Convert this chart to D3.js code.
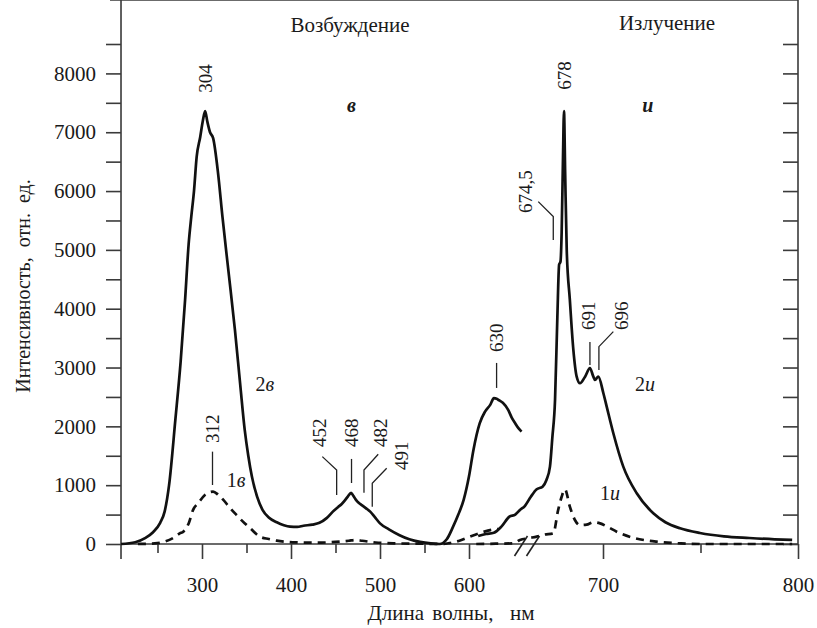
<!DOCTYPE html>
<head>
    <meta charset="utf-8">
    <script src="https://d3js.org/d3.v7.min.js"></script>
    <style>
        body { margin: 0; background: #fff; }
        svg { font-family: "Liberation Serif", "Times New Roman", serif; fill: #1a1a1a; }
        text { white-space: pre; }
        .frame, .axis .tick line { stroke: #3a3a3a; stroke-width: 1.6px; }
        .axis .domain { display: none; }
        .axis text { font-size: 21px; fill: #1a1a1a; font-family: "Liberation Serif", serif; }
        .curve { fill: none; stroke: #111; stroke-width: 2.7px; stroke-linejoin: round; }
        .dashed { stroke-dasharray: 8, 6; }
        .lead { fill: none; stroke: #222; stroke-width: 1.3px; }
        .peak { font-size: 19px; }
    </style>
</head>
<body>
<div id="vis"></div>
<script>
    ////////// data (wavelength nm, intensity) //////////

    // excitation spectrum, curve 2в
    var excit2 = [[209,0],[225,30],[236,100],[245,200],[253,360],[258,550],[263,1000],[270,2100],[276,3100],
        [281,4150],[285,5100],[288,5570],[291,6000],[294,6580],[298,6920],[301,7200],[303.5,7360],[306,7180],
        [309,7000],[312.5,6900],[318,6310],[323,5560],[330,4600],[337,3640],[343,2700],[348,1940],[352,1500],
        [356,1150],[362,800],[368,580],[375,450],[384,370],[392,320],[399,295],[407,290],[414,310],[424,330],
        [432,360],[440,440],[447,550],[453,630],[457,680],[461,750],[464,810],[467.5,870],[470,820],[473,750],
        [476,700],[479.5,660],[484,610],[489,550],[494,460],[500,350],[510,250],[522,150],[533,80],[545,35],
        [557,10],[567,0],[575,80],[582,290],[588,500],[594,750],[600,1150],[605,1600],[612,2050],[618,2250],
        [624,2370],[628,2480],[631,2470],[634,2440],[638,2400],[644,2280],[648,2150],[652,2050],[656,1960],[659,1910]];

    // excitation spectrum, curve 1в
    var excit1 = [[228,0],[247,10],[258,40],[270,125],[275,180],[279,210],[285,350],[290,580],[296,700],
        [303,830],[312.5,890],[318,840],[324,750],[331,620],[339,490],[346,380],[354,270],[365,125],[375,85],
        [384,57],[406,28],[429,22],[450,35],[465,55],[472,68],[480,55],[495,25],[520,10],[545,5],[570,0],
        [578,15],[590,60],[600,120],[615,200],[625,240],[633,255]];

    // emission spectrum, curve 2и
    var emiss2 = [[636,136],[640,170],[644,192],[648,300],[652,464],[655,500],[657.4,578],[660,650],[663,804],
        [666,930],[669,975],[671,1088],[672.8,1315],[674,1800],[675.4,2449],[676.6,3866],[677.5,4750],[678.2,4800],
        [678.8,5300],[679.5,6600],[680,7360],[680.6,6300],[681.4,5000],[683,4150],[684.8,3300],[686.5,2845],
        [688.2,2733],[690.8,2845],[693.3,2990],[695,2850],[695.9,2790],[697.6,2845],[700.2,2563],[701.9,2335],
        [705.3,1883],[710.4,1315],[717.3,862],[725.8,522],[732,370],[739.5,267],[749.7,187],[762,130],
        [775,102],[788,80],[797,70]];

    // emission spectrum, curve 1и
    var emiss1 = [[635,0],[645,5],[654,12],[657.4,68],[662,100],[666,125],[670,160],[674.5,182],[677,578],
        [678.8,804],[680.5,930],[683,634],[685.6,408],[688,323],[691.6,330],[695,370],[698.5,350],[703,280],
        [707,209],[715,110],[721,68],[727.5,40],[740,10],[750,0],[797,0]];

    var yTicks = d3.range(0, 8501, 500);
    var exMajor = [300, 400, 500, 600], exMinor = [250, 350, 450, 550];
    var emMajor = [700, 800], emMinor = [750];

    // peak labels: text, scale, anchor (nm, intensity), leader polyline
    var peakLabels = [
        {t: "304", s: "ex", at: [303.4, 7670], lead: []},
        {t: "312", s: "ex", at: [311.8, 1718], lead: [[311.8,1570],[311.8,1003]]},
        {t: "452", s: "ex", at: [432.4, 1650], lead: [[435.2,1485],[451.3,1259],[451.3,833]]},
        {t: "468", s: "ex", at: [468, 1650], lead: [[468,1446],[468,1037]]},
        {t: "482", s: "ex", at: [500, 1650], lead: [[498,1525],[482,1259],[482,872]]},
        {t: "491", s: "ex", at: [524, 1259], lead: [[507.5,1287],[491.3,1032],[491.3,634]]},
        {t: "630", s: "ex", at: [630.9, 3265], lead: [[631,3078],[631,2653]]},
        {t: "678", s: "em", at: [680, 7721], lead: []},
        {t: "674,5", s: "em", at: [660, 5629], lead: [[666.8,5821],[674.5,5566],[674.5,5170]]},
        {t: "691", s: "em", at: [692.3, 3639], lead: [[693.3,3435],[693.3,3044]]},
        {t: "696", s: "em", at: [709.5, 3639], lead: [[705.3,3610],[697.9,3355],[697.9,2959]]}
    ];

    var curveLabels = [
        {n: "2", l: "в", s: "ex", at: [360, 2602]},
        {n: "1", l: "в", s: "ex", at: [327.8, 969]},
        {n: "2", l: "и", s: "em", at: [716.4, 2602]},
        {n: "1", l: "и", s: "em", at: [698.5, 748]}
    ];

    ////////// scales //////////

    var width = 817, height = 628;

    var xEx = d3.scaleLinear().domain([300, 600]).range([202, 469]);
    var xEm = d3.scaleLinear().domain([700, 800]).range([603, 798]);
    var y = d3.scaleLinear().domain([0, 8500]).range([544, 44]);
    var sc = {ex: xEx, em: xEm};

    var left = xEx(209), right = xEm(800), top = y(8500), bottom = y(0);

    var svg = d3.select("#vis").append("svg")
        .attr("width", width)
        .attr("height", height);

    svg.append("rect").attr("width", width).attr("height", height).attr("fill", "#fff");

    ////////// frame and axes //////////

    var frame = svg.append("g");
    frame.append("line").attr("class", "frame").attr("x1", left).attr("x2", left).attr("y1", top).attr("y2", bottom + 15);
    frame.append("line").attr("class", "frame").attr("x1", left).attr("x2", right).attr("y1", bottom).attr("y2", bottom);
    frame.append("line").attr("class", "frame").attr("x1", right).attr("x2", right).attr("y1", top).attr("y2", bottom);
    frame.append("line").attr("class", "frame").attr("x1", left - 11).attr("x2", right).attr("y1", top).attr("y2", top);

    svg.append("g").attr("class", "axis")
        .attr("transform", "translate(" + left + ",0)")
        .call(d3.axisLeft(y).tickValues(yTicks).tickSize(15).tickPadding(10)
            .tickFormat(function(d) { return (d % 1000 === 0) ? d : ""; }));

    svg.append("g").attr("class", "axis")
        .attr("transform", "translate(" + right + ",0)")
        .call(d3.axisLeft(y).tickValues(yTicks).tickSize(-0).tickSizeInner(15).tickFormat(""))
        .selectAll(".tick line").attr("x2", -15);

    function xAxis(scale, major, minor) {
        svg.append("g").attr("class", "axis")
            .attr("transform", "translate(0," + bottom + ")")
            .call(d3.axisBottom(scale).tickValues(major).tickSize(15).tickPadding(18));
        svg.append("g").attr("class", "axis")
            .attr("transform", "translate(0," + bottom + ")")
            .call(d3.axisBottom(scale).tickValues(minor).tickSize(9).tickFormat(""));
    }
    xAxis(xEx, exMajor, exMinor);
    xAxis(xEm, emMajor, emMinor);

    // axis break marks
    [521, 533].forEach(function(cx) {
        svg.append("line").attr("class", "lead")
            .attr("x1", cx - 6.5).attr("y1", bottom + 12)
            .attr("x2", cx + 6.5).attr("y2", bottom - 8)
            .style("stroke-width", "1.6px");
    });

    ////////// curves //////////

    function draw(data, scale, dashed) {
        var line = d3.line()
            .x(function(d) { return scale(d[0]); })
            .y(function(d) { return y(d[1]); })
            .curve(d3.curveMonotoneX);
        svg.append("path")
            .datum(data)
            .attr("class", dashed ? "curve dashed" : "curve")
            .attr("d", line);
    }
    draw(excit2, xEx, false);
    draw(excit1, xEx, true);
    draw(emiss2, xEm, false);
    draw(emiss1, xEm, true);

    ////////// labels //////////

    peakLabels.forEach(function(p) {
        var xs = sc[p.s];
        svg.append("text").attr("class", "peak")
            .attr("transform", "translate(" + xs(p.at[0]) + "," + y(p.at[1]) + ") rotate(-90)")
            .attr("dy", "0.35em")
            .text(p.t);
        if (p.lead.length) {
            svg.append("path").attr("class", "lead")
                .attr("d", d3.line().x(function(d) { return xs(d[0]); }).y(function(d) { return y(d[1]); })(p.lead));
        }
    });

    curveLabels.forEach(function(c) {
        var t = svg.append("text")
            .attr("x", sc[c.s](c.at[0])).attr("y", y(c.at[1]))
            .style("font-size", "20px");
        t.append("tspan").text(c.n);
        t.append("tspan").style("font-style", "italic").text(c.l);
    });

    svg.append("text").attr("x", xEx(468)).attr("y", 112).attr("text-anchor", "middle")
        .style("font-size", "20px").style("font-style", "italic").style("font-weight", "bold").text("в");
    svg.append("text").attr("x", xEm(723)).attr("y", 112).attr("text-anchor", "middle")
        .style("font-size", "20px").style("font-style", "italic").style("font-weight", "bold").text("и");

    svg.append("text").attr("x", 350).attr("y", 32).attr("text-anchor", "middle")
        .style("font-size", "21px").text("Возбуждение");
    svg.append("text").attr("x", 667).attr("y", 30).attr("text-anchor", "middle")
        .style("font-size", "21px").text("Излучение");

    svg.append("text").attr("x", 451).attr("y", 620).attr("text-anchor", "middle")
        .style("font-size", "21px").style("word-spacing", "3px").text("Длина волны,  нм");
    svg.append("text").attr("transform", "translate(23,286) rotate(-90)")
        .attr("dy", "0.35em").attr("text-anchor", "middle")
        .style("font-size", "20px").text("Интенсивность,  отн.  ед.");
</script>
</body>
